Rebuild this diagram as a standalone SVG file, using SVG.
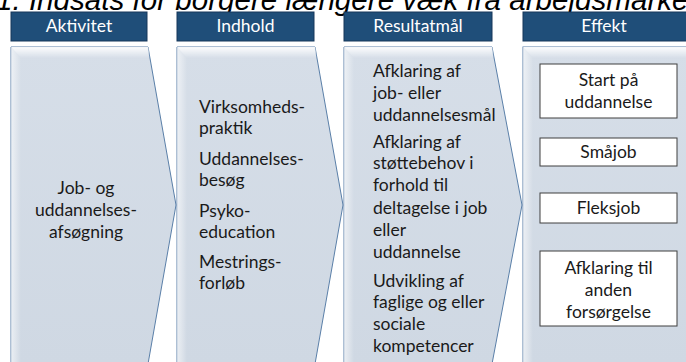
<svg xmlns="http://www.w3.org/2000/svg" width="686" height="362" viewBox="0 0 686 362">
<defs>
<linearGradient id="body" x1="0" y1="0" x2="0" y2="1">
<stop offset="0" stop-color="#D6DEE8"/>
<stop offset="1" stop-color="#CFD8E3"/>
</linearGradient>
<linearGradient id="topbev" x1="0" y1="0" x2="0" y2="1">
<stop offset="0" stop-color="#FFFFFF" stop-opacity="0.95"/>
<stop offset="1" stop-color="#FFFFFF" stop-opacity="0"/>
</linearGradient>
<linearGradient id="leftbev" x1="0" y1="0" x2="1" y2="0">
<stop offset="0" stop-color="#FFFFFF" stop-opacity="0.6"/>
<stop offset="1" stop-color="#FFFFFF" stop-opacity="0"/>
</linearGradient>
</defs>
<style>
.hdr{fill:#1F4E79;stroke:#16375A;stroke-width:1}
.htx{font-family:Lato,"Open Sans",sans-serif;font-size:17.5px;fill:#FFFFFF;text-anchor:middle}
.chev{fill:url(#body);stroke:#5A7FA8;stroke-width:1}
.tb{fill:url(#topbev)}
.lb{fill:url(#leftbev)}
.tx{font-family:Lato,"Open Sans",sans-serif;font-size:17.5px;fill:#1A1A1A}
.ctx{font-family:Lato,"Open Sans",sans-serif;font-size:17.5px;fill:#1A1A1A;text-anchor:middle}
.box{fill:#FFFFFF;stroke:#3F3F3F;stroke-width:1}
.title{font-family:"Liberation Sans",Arial,sans-serif;font-style:italic;font-size:29.6px;fill:#000000}
</style>
<rect width="686" height="362" fill="#FFFFFF"/>
<text class="title" x="-4" y="10">1. Indsats for borgere længere væk fra arbejdsmarkedet</text>

<g id="aktivitet">
<rect class="hdr" x="11" y="12" width="136" height="29"/>
<text class="htx" x="79" y="32">Aktivitet</text>
<polygon class="chev" points="11,47 148,47 176,205 148,364 11,364"/>
<polygon class="tb" points="11,47 148,47 150,58 21,58"/>
<polygon class="lb" points="11,47 21,58 21,364 11,364"/>
<text class="ctx" x="86" y="194">Job- og</text>
<text class="ctx" x="86" y="216">uddannelses-</text>
<text class="ctx" x="86" y="238">afsøgning</text>
</g>

<g id="indhold">
<rect class="hdr" x="177" y="12" width="137" height="29"/>
<text class="htx" x="245.5" y="32">Indhold</text>
<polygon class="chev" points="177,47 315,47 343,205 315,364 177,364"/>
<polygon class="tb" points="177,47 315,47 317,58 187,58"/>
<polygon class="lb" points="177,47 187,58 187,364 177,364"/>
<text class="tx" x="199" y="113">Virksomheds-</text>
<text class="tx" x="199" y="134">praktik</text>
<text class="tx" x="199" y="165">Uddannelses-</text>
<text class="tx" x="199" y="186">besøg</text>
<text class="tx" x="199" y="217">Psyko-</text>
<text class="tx" x="199" y="238">education</text>
<text class="tx" x="199" y="268">Mestrings-</text>
<text class="tx" x="199" y="289">forløb</text>
</g>

<g id="resultatmaal">
<rect class="hdr" x="344" y="12" width="148" height="29"/>
<text class="htx" x="418" y="32">Resultatmål</text>
<polygon class="chev" points="344,47 492,47 522,205 492,364 344,364"/>
<polygon class="tb" points="344,47 492,47 494,58 354,58"/>
<polygon class="lb" points="344,47 354,58 354,364 344,364"/>
<text class="tx" x="373" y="77">Afklaring af</text>
<text class="tx" x="373" y="99">job- eller</text>
<text class="tx" x="373" y="121">uddannelsesmål</text>
<text class="tx" x="373" y="148">Afklaring af</text>
<text class="tx" x="373" y="169">støttebehov i</text>
<text class="tx" x="373" y="191">forhold til</text>
<text class="tx" x="373" y="214">deltagelse i job</text>
<text class="tx" x="373" y="236">eller</text>
<text class="tx" x="373" y="258">uddannelse</text>
<text class="tx" x="373" y="287">Udvikling af</text>
<text class="tx" x="373" y="308">faglige og eller</text>
<text class="tx" x="373" y="330">sociale</text>
<text class="tx" x="373" y="352">kompetencer</text>
</g>

<g id="effekt">
<rect class="hdr" x="523" y="12" width="170" height="29"/>
<text class="htx" x="604" y="32">Effekt</text>
<rect class="chev" x="523" y="47" width="170" height="317"/>
<polygon class="tb" points="523,47 693,47 693,58 533,58"/>
<polygon class="lb" points="523,47 533,58 533,364 523,364"/>
</g>

<g id="start-paa-uddannelse">
<rect class="box" x="540" y="64" width="137" height="54"/>
<text class="ctx" x="608.5" y="86">Start på</text>
<text class="ctx" x="608.5" y="108">uddannelse</text>
</g>
<g id="smaajob">
<rect class="box" x="540" y="138" width="137" height="28"/>
<text class="ctx" x="608.5" y="158">Småjob</text>
</g>
<g id="fleksjob">
<rect class="box" x="540" y="193" width="137" height="30"/>
<text class="ctx" x="608.5" y="214">Fleksjob</text>
</g>
<g id="afklaring-anden-forsoergelse">
<rect class="box" x="540" y="251" width="137" height="75"/>
<text class="ctx" x="608.5" y="274">Afklaring til</text>
<text class="ctx" x="608.5" y="296">anden</text>
<text class="ctx" x="608.5" y="318">forsørgelse</text>
</g>
</svg>
